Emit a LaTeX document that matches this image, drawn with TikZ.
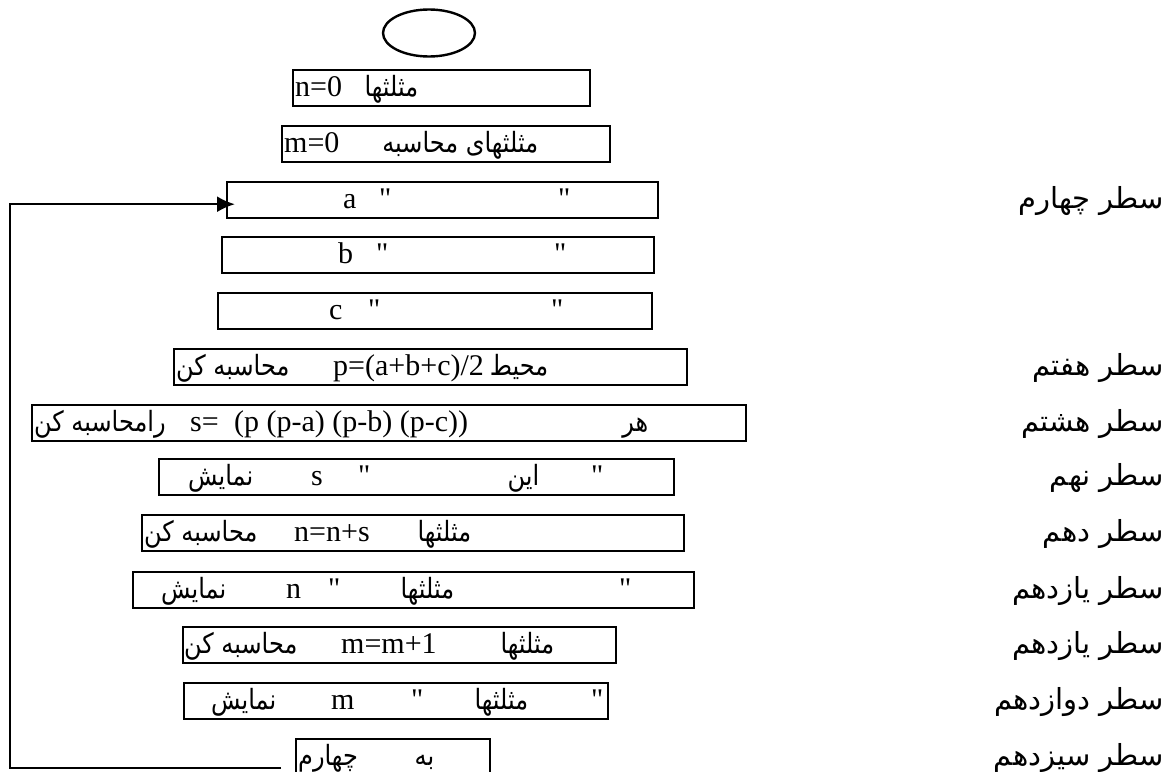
\documentclass[tikz,border=0pt]{standalone}
\usepackage{fontspec}
\setmainfont{Liberation Serif}[Ligatures=TeXOff]
\newfontfamily\farsi[Script=Arabic]{DejaVu Sans}
\newfontfamily\farsibox[Script=Arabic,Scale=0.93,FakeStretch=0.86]{DejaVu Sans}
\TeXXeTstate=1
\usetikzlibrary{arrows.meta,shapes.geometric,calc}

% one unit of the drawing
\newlength\px
\setlength\px{0.5pt}
% a piece of text that starts #1 units from the left side of a box
\newcommand\at[2]{\makebox[0pt][l]{\hspace*{#1\px}#2}}
% a piece of text that ends #1 units from the left side of a box
\newcommand\atr[2]{\makebox[0pt][l]{\hspace*{#1\px}\makebox[0pt][r]{#2}}}
% right-to-left words, for the row names and inside the boxes
\newcommand\fa[1]{{\farsi\beginR #1\endR}}
\newcommand\fb[1]{{\farsibox\beginR #1\endR}}
% the row inside a box, #1 units wide
\newcommand\slot[2]{\hbox to #1\px{#2\hfil}}

\begin{document}
\begin{tikzpicture}[x=0.5pt,y=-0.5pt,line width=1.2pt,font=\fontsize{15pt}{17pt}\selectfont]
	% Styles for the boxes and the row names
	\tikzset{
		stepbox/.style={draw, anchor=north west, inner sep=0pt, text height=13pt, text depth=5pt},
		rowlabel/.style={anchor=base east, inner sep=0pt, font=\fontsize{14.5pt}{17pt}\selectfont},
	}
	\useasboundingbox (0,0) rectangle (1167,771);
	\clip (0,0) rectangle (1167,771);

	% Start
	\node[draw, ellipse, minimum width=46pt, minimum height=23.5pt] (start) at (429,33) {};

	% Counters
	\node[stepbox] (nzero) at (292,69) {\slot{297}{\at{2}{n=0}\atr{125}{\fb{مثلثها}}}};
	\node[stepbox] (mzero) at (281,125) {\slot{328}{\at{2}{m=0}\atr{256}{\fb{مثلثهای محاسبه}}}};

	% Read the three sides
	\node[stepbox] (reada) at (226,181) {\slot{431}{\at{116}{a}\at{152}{"}\at{331}{"}}};
	\node[stepbox] (readb) at (221,236) {\slot{432}{\at{116}{b}\at{154}{"}\at{332}{"}}};
	\node[stepbox] (readc) at (217,292) {\slot{434}{\at{111}{c}\at{150}{"}\at{333}{"}}};

	% Half perimeter and area
	\node[stepbox] (perim) at (173,348) {\slot{513}{\at{2}{\fb{محاسبه کن}}\at{159}{p=(a+b+c)/2}\atr{374}{\fb{محیط}}}};
	\node[stepbox] (area) at (31,404) {\slot{714}{\at{2}{\fb{رامحاسبه کن}}\at{158}{s=}\at{202}{(p (p-a) (p-b) (p-c))}\atr{616}{\fb{هر}}}};
	\node[stepbox] (shows) at (158,458) {\slot{515}{\atr{94}{\fb{نمایش}}\at{152}{s}\at{199}{"}\atr{380}{\fb{این}}\at{432}{"}}};

	% Sum and count
	\node[stepbox] (addn) at (141,514) {\slot{542}{\at{2}{\fb{محاسبه کن}}\at{152}{n=n+s}\atr{329}{\fb{مثلثها}}}};
	\node[stepbox] (shown) at (132,571) {\slot{561}{\atr{93}{\fb{نمایش}}\at{153}{n}\at{195}{"}\atr{321}{\fb{مثلثها}}\at{486}{"}}};
	\node[stepbox] (incm) at (182,626) {\slot{433}{\at{1}{\fb{محاسبه کن}}\at{158}{m=m+1}\atr{371}{\fb{مثلثها}}}};
	\node[stepbox] (showm) at (183,682) {\slot{424}{\atr{92}{\fb{نمایش}}\at{147}{m}\at{227}{"}\atr{344}{\fb{مثلثها}}\at{407}{"}}};
	\node[stepbox] (goto) at (295,738) {\slot{194}{\at{2}{\fb{چهارم}}\atr{138}{\fb{به}}}};

	% Loop back to the fourth row
	\coordinate (back) at (281,768);
	\coordinate (loopx) at (10,768);
	\draw[-{Latex[length=9pt,width=8pt]}] (back) -- (loopx) |- ($(reada.west)+(9,4)$);

	% Row names on the right
	\coordinate (labx) at (1165,0);
	\node[rowlabel] (lbl4) at (reada.base -| labx) {\fa{سطر چهارم}};
	\node[rowlabel] (lbl7) at (perim.base -| labx) {\fa{سطر هفتم}};
	\node[rowlabel] (lbl8) at (area.base -| labx) {\fa{سطر هشتم}};
	\node[rowlabel] (lbl9) at (shows.base -| labx) {\fa{سطر نهم}};
	\node[rowlabel] (lbl10) at (addn.base -| labx) {\fa{سطر دهم}};
	\node[rowlabel] (lbl11) at (shown.base -| labx) {\fa{سطر یازدهم}};
	\node[rowlabel] (lbl11b) at (incm.base -| labx) {\fa{سطر یازدهم}};
	\node[rowlabel] (lbl12) at (showm.base -| labx) {\fa{سطر دوازدهم}};
	\node[rowlabel] (lbl13) at (goto.base -| labx) {\fa{سطر سیزدهم}};
\end{tikzpicture}
\end{document}
